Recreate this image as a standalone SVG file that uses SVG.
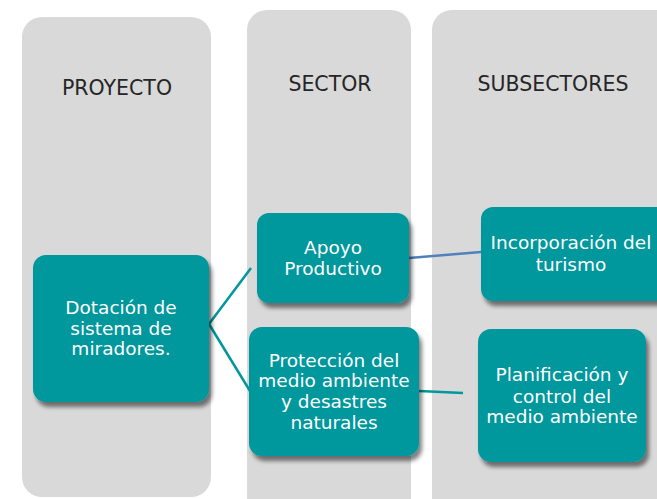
<svg xmlns="http://www.w3.org/2000/svg" width="657" height="499" viewBox="0 0 657 499">
<defs>
<filter id="sh" x="-10%" y="-10%" width="130%" height="140%">
<feGaussianBlur in="SourceAlpha" stdDeviation="2"/>
<feOffset dx="3" dy="5" result="b"/>
<feComponentTransfer><feFuncA type="linear" slope="0.5"/></feComponentTransfer>
<feMerge><feMergeNode/><feMergeNode in="SourceGraphic"/></feMerge>
</filter>
<style>
.col{fill:#d9d9d9}
.hd{font-family:"DejaVu Sans",sans-serif;font-size:20.5px;fill:#262626;text-anchor:middle}
.nd{fill:#00979d;filter:url(#sh)}
.tx{font-family:"DejaVu Sans",sans-serif;font-size:18.5px;fill:#ffffff;text-anchor:middle}
.ln{fill:none;stroke-width:2.5}
</style>
</defs>
<rect width="657" height="499" fill="#ffffff"/>
<g id="col-proyecto"><rect class="col" x="22" y="17" width="189" height="480" rx="20"/><text class="hd" x="117" y="95">PROYECTO</text></g>
<g id="col-sector"><rect class="col" x="247" y="10" width="164" height="520" rx="20"/><text class="hd" x="330" y="91">SECTOR</text></g>
<g id="col-subsectores"><rect class="col" x="432" y="10" width="260" height="520" rx="20"/><text class="hd" x="553" y="91">SUBSECTORES</text></g>
<g id="connectors">
<path class="ln" stroke="#00979d" d="M209,324 L251,268"/>
<path class="ln" stroke="#00979d" d="M209,324 L250,391"/>
<path class="ln" stroke="#4f81bd" d="M409,258 L481,252"/>
<path class="ln" stroke="#00979d" d="M419,391 L463,393"/>
</g>
<g id="n-dotacion"><rect class="nd" x="33" y="255" width="176" height="147" rx="13"/>
<text class="tx"><tspan x="121" y="314">Dotación de</tspan><tspan x="121" y="335">sistema de</tspan><tspan x="121" y="355">miradores.</tspan></text></g>
<g id="n-apoyo"><rect class="nd" x="257" y="213" width="152" height="90" rx="12"/>
<text class="tx"><tspan x="333" y="254">Apoyo</tspan><tspan x="333" y="275">Productivo</tspan></text></g>
<g id="n-proteccion"><rect class="nd" x="249" y="327" width="170" height="129" rx="13"/>
<text class="tx"><tspan x="334" y="367">Protección del</tspan><tspan x="334" y="387">medio ambiente</tspan><tspan x="334" y="408">y desastres</tspan><tspan x="334" y="429">naturales</tspan></text></g>
<g id="n-incorporacion"><rect class="nd" x="481" y="207" width="190" height="94" rx="12"/>
<text class="tx"><tspan x="571" y="249">Incorporación del</tspan><tspan x="571" y="271">turismo</tspan></text></g>
<g id="n-planificacion"><rect class="nd" x="478" y="329" width="168" height="133" rx="13"/>
<text class="tx"><tspan x="562" y="381">Planificación y</tspan><tspan x="562" y="403">control del</tspan><tspan x="562" y="423">medio ambiente</tspan></text></g>
</svg>
